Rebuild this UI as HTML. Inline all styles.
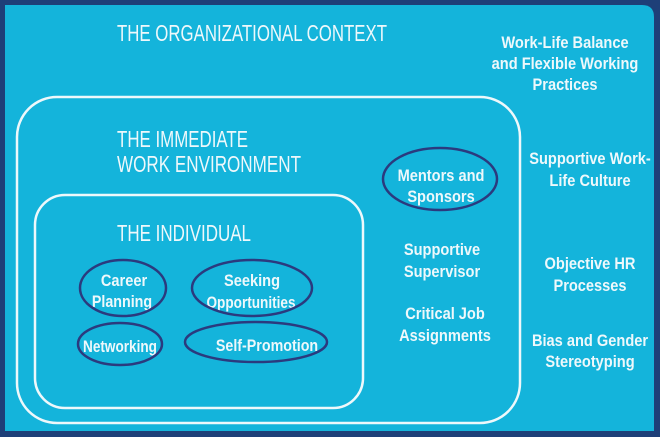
<!DOCTYPE html>
<html><head><meta charset="utf-8"><style>
html,body{margin:0;padding:0;background:#1e3f78;}
svg{display:block}
text{font-family:"Liberation Sans",sans-serif;fill:#eef8fb;}
</style></head><body>
<svg width="660" height="437" viewBox="0 0 660 437" xmlns="http://www.w3.org/2000/svg">
<rect x="0" y="0" width="660" height="437" fill="#1e3f78"/>
<path d="M5 5 H642 Q654 5 654 17 V431 H5 Z" fill="#14b4db"/>
<rect x="17" y="97" width="503" height="326" rx="40" fill="none" stroke="#eef8fb" stroke-width="2.5"/>
<rect x="35" y="195" width="328" height="213" rx="30" fill="none" stroke="#eef8fb" stroke-width="2.5"/>
<g font-size="23">
<text x="117" y="41" textLength="270" lengthAdjust="spacingAndGlyphs">THE ORGANIZATIONAL CONTEXT</text>
<text x="117" y="147" textLength="131" lengthAdjust="spacingAndGlyphs">THE IMMEDIATE</text>
<text x="117" y="172" textLength="184" lengthAdjust="spacingAndGlyphs">WORK ENVIRONMENT</text>
<text x="117" y="241" textLength="134" lengthAdjust="spacingAndGlyphs">THE INDIVIDUAL</text>
</g>
<g font-size="17" text-anchor="middle" font-weight="bold">
<text transform="translate(565 48) scale(.86 1)">Work-Life Balance</text>
<text transform="translate(565 69) scale(.86 1)">and Flexible Working</text>
<text transform="translate(565 90) scale(.86 1)">Practices</text>
<text transform="translate(590 164) scale(.86 1)">Supportive Work-</text>
<text transform="translate(590 186) scale(.86 1)">Life Culture</text>
<text transform="translate(590 269) scale(.86 1)">Objective HR</text>
<text transform="translate(590 291) scale(.86 1)">Processes</text>
<text transform="translate(590 346) scale(.86 1)">Bias and Gender</text>
<text transform="translate(590 367) scale(.86 1)">Stereotyping</text>
<text transform="translate(442 255) scale(.86 1)">Supportive</text>
<text transform="translate(442 277) scale(.86 1)">Supervisor</text>
<text transform="translate(445 319) scale(.86 1)">Critical Job</text>
<text transform="translate(445 341) scale(.86 1)">Assignments</text>
<text transform="translate(441 181) scale(.86 1)">Mentors and</text>
<text transform="translate(441 202) scale(.86 1)">Sponsors</text>
<text transform="translate(124 286) scale(.86 1)">Career</text>
<text transform="translate(122 307) scale(.84 1)">Planning</text>
<text transform="translate(252 286) scale(.86 1)">Seeking</text>
<text transform="translate(251 308) scale(.8 1)">Opportunities</text>
<text transform="translate(120 352) scale(.8 1)">Networking</text>
<text transform="translate(267 351) scale(.84 1)">Self-Promotion</text>
</g>
<g fill="none" stroke="#2b3a7e" stroke-width="2.5">
<ellipse cx="440" cy="179" rx="57" ry="31"/>
<ellipse cx="123" cy="288" rx="43" ry="28"/>
<ellipse cx="252" cy="288" rx="60" ry="28"/>
<ellipse cx="120" cy="344" rx="42" ry="21"/>
<ellipse cx="256" cy="342" rx="71" ry="20"/>
</g>
</svg>
</body></html>
